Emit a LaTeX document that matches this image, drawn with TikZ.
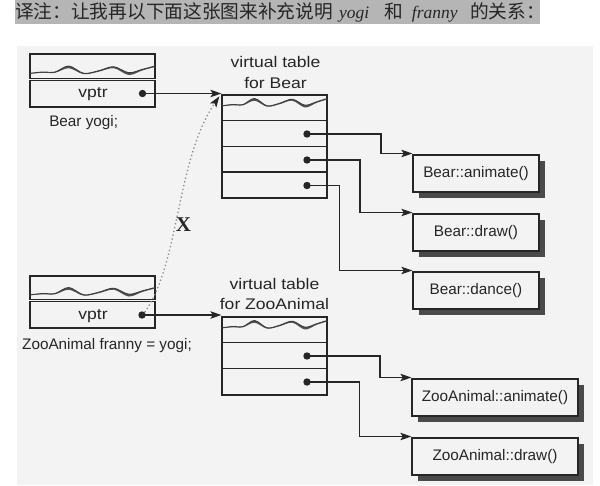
\documentclass[tikz,border=0pt]{standalone}
\usepackage{fontspec}
\setmainfont{Liberation Sans}
\newfontfamily\cjkfont{Noto Sans CJK SC}
\newfontfamily\latinserif{Liberation Serif}
\newfontfamily\widesans{Liberation Sans}[FakeStretch=1.14]
\usetikzlibrary{arrows.meta,shadows,calc}
\definecolor{inkc}{HTML}{262626}
\definecolor{bgc}{HTML}{F3F3F3}
\definecolor{bandc}{HTML}{B5B5B5}
\definecolor{shadowc}{HTML}{4A4A4A}
\definecolor{dotlinec}{HTML}{8A8A8A}
\newcommand\mywave[3]{%
  \begin{scope}[shift={(#1,#2)},xscale=#3]
    \fill[inkc!80] plot[smooth,tension=0.55] coordinates {(0,3.3) (10,2) (20,2) (31,-4) (43,3.3) (55,0.7) (67,-3.3) (79,2.7) (90,-0.7) (100,-4)}
      -- plot[smooth,tension=0.55] coordinates {(100,-3) (90,0.4) (79,5.0) (67,-1.8) (55,1.7) (43,4.2) (31,-1.8) (20,2.8) (10,2.8) (0,3.8)} -- cycle;
    \draw[inkc!90, line width=0.9pt] plot[smooth,tension=0.55] coordinates {(0,3.3) (10,2) (20,2) (31,-4) (43,3.3) (55,0.7) (67,-3.3) (79,2.7) (90,-0.7) (100,-4)};
  \end{scope}}
\begin{document}
\begin{tikzpicture}[x=1pt,y=-1pt,
  boxline/.style={draw=inkc, line width=1.3pt},
  objbox/.style={boxline, fill=bgc, rectangle, minimum width=125pt, minimum height=53pt, inner sep=0pt},
  vtbox/.style={boxline, fill=bgc, rectangle, minimum width=105pt, inner sep=0pt},
  fnbox/.style={boxline, fill=bgc, rectangle, minimum height=37pt, inner sep=0pt, text=inkc,
    font=\fontsize{15.3}{18}\selectfont,
    drop shadow={shadow xshift=6pt, shadow yshift=-6pt, fill=shadowc, opacity=1}},
  lbl/.style={inner sep=0pt, text=inkc, font=\fontsize{15.3}{18}\selectfont},
  widelbl/.style={inner sep=0pt, text=inkc, font=\widesans\fontsize{15.4}{18}\selectfont},
  dotn/.style={circle, fill=inkc, minimum size=7.4pt, inner sep=0pt},
  conn/.style={draw=inkc, line width=1.1pt, -{Stealth[length=11pt, width=7.5pt, inset=2.5pt]}},
  dblline/.style={draw=inkc, line width=0.8pt, double=bgc, double distance=0.9pt},
  rowline/.style={draw=inkc, line width=1.3pt}
]
\useasboundingbox (0,0) rectangle (600,485);
\fill[white] (0,0) rectangle (600,485);
\fill[bgc] (17,46) rectangle (593,485);
\fill[bandc] (15,0) rectangle (540,23.5);
\node[anchor=base west, inner sep=0pt, text=inkc, font=\cjkfont\fontsize{18.7}{20}\selectfont] (hdr) at (15,18)
  {译注：让我再以下面这张图来补充说明\hspace{6pt}{\latinserif\itshape\fontsize{17.5}{20}\selectfont yogi}\hspace{15pt}和\hspace{9pt}{\latinserif\itshape\fontsize{17.5}{20}\selectfont franny}\hspace{12.5pt}的关系：};

% object yogi
\node[objbox] (yogi) at (92.5,80.5) {};
\mywave{30}{70}{1.25}
\draw[dblline] ($(yogi.north west)+(0,26.3)$) -- ($(yogi.north east)+(0,26.3)$);
\node[widelbl, anchor=base] (yv) at (93,97) {vptr};
\node[dotn] (yd) at (142.5,93.5) {};
\node[lbl, anchor=base] (yl) at (83.7,126) {Bear yogi;};

% vtable Bear
\node[vtbox, minimum height=103pt] (vtB) at (274.5,146.5) {};
\mywave{222}{102.5}{1.05}
\draw[rowline] ($(vtB.north west)+(0,26)$) -- ($(vtB.north east)+(0,26)$);
\draw[rowline] ($(vtB.north west)+(0,52)$) -- ($(vtB.north east)+(0,52)$);
\draw[rowline] ($(vtB.north west)+(0,77.5)$) -- ($(vtB.north east)+(0,77.5)$);
\node[widelbl, anchor=base] (vtBl1) at (275.5,67.5) {virtual table};
\node[widelbl, anchor=base] (vtBl2) at (275.5,88) {for Bear};

% Bear functions
\node[fnbox, minimum width=126pt] (fa) at (476,173.5) {Bear::animate()};
\node[fnbox, minimum width=126pt] (fd) at (476,232.5) {Bear::draw()};
\node[fnbox, minimum width=126pt] (fc) at (476,290.5) {Bear::dance()};

% object franny
\node[objbox, minimum height=52pt] (fr) at (92.5,302) {};
\mywave{30}{291.5}{1.25}
\draw[dblline] ($(fr.north west)+(0,25.3)$) -- ($(fr.north east)+(0,25.3)$);
\node[widelbl, anchor=base] (fv) at (93,319) {vptr};
\node[dotn] (fdot) at (142,315) {};
\node[lbl, anchor=base] (fl) at (107,349) {ZooAnimal franny = yogi;};

% vtable ZooAnimal
\node[vtbox, minimum height=78pt] (vtZ) at (274.5,356) {};
\mywave{222}{324.5}{1.05}
\draw[rowline] ($(vtZ.north west)+(0,26)$) -- ($(vtZ.north east)+(0,26)$);
\draw[rowline] ($(vtZ.north west)+(0,52)$) -- ($(vtZ.north east)+(0,52)$);
\node[widelbl, anchor=base] (vtZl1) at (274.5,289) {virtual table};
\node[widelbl, anchor=base] (vtZl2) at (274.5,309.5) {for ZooAnimal};

% ZooAnimal functions
\node[fnbox, minimum width=166pt] (za) at (495,397.5) {ZooAnimal::animate()};
\node[fnbox, minimum width=166pt] (zd) at (495,456.5) {ZooAnimal::draw()};

% bend points
\coordinate (k1) at (381,153.5);
\coordinate (k2) at (360,212.5);
\coordinate (k3) at (339.5,270.5);
\coordinate (k4) at (380,377.5);
\coordinate (k5) at (359.5,436.5);

% slot dots
\node[dotn] (b1) at (307,134) {};
\node[dotn] (b2) at (307,160) {};
\node[dotn] (b3) at (307,185.5) {};
\node[dotn] (z1) at (307,356) {};
\node[dotn] (z2) at (307,382) {};

% connectors
\draw[conn] (yd.center) -- (yd.center -| vtB.west);
\draw[conn] (fdot.center) -- (fdot.center -| vtZ.west);
\draw[conn] (b1.center) -| (k1) -- (k1 -| fa.west);
\draw[conn] (b2.center) -| (k2) -- (k2 -| fd.west);
\draw[conn] (b3.center) -| (k3) -- (k3 -| fc.west);
\draw[conn] (z1.center) -| (k4) -- (k4 -| za.west);
\draw[conn] (z2.center) -| (k5) -- (k5 -| zd.west);

% dotted (invalid) link
\coordinate (dend) at ($(vtB.north west)+(-2,2)$);
\draw[dotlinec, line width=1.3pt, dash pattern=on 1.3pt off 2.6pt,
  -{Stealth[length=11pt, width=7.5pt, inset=2.5pt, color=inkc]}]
  (fdot.north east) .. controls (180,262) and (176,160) .. (dend);
\node[inner sep=0pt, text=inkc, font=\latinserif\bfseries\fontsize{21}{24}\selectfont] (xl) at (183.5,225) {X};
\end{tikzpicture}
\end{document}
